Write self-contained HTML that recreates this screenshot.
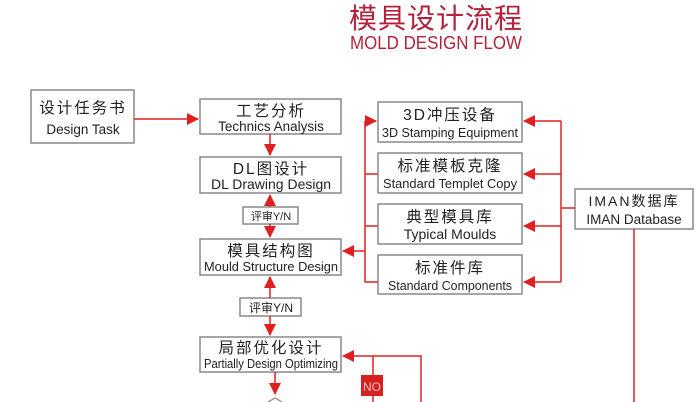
<!DOCTYPE html>
<html><head><meta charset="utf-8"><style>
html,body{margin:0;padding:0;background:#fff;}
body{width:700px;height:402px;overflow:hidden;position:relative;}
svg{position:absolute;left:0;top:0;}
text{font-family:"Liberation Sans","Noto Sans CJK SC",sans-serif;fill:#222;}
.cn{font-size:15.5px;letter-spacing:2px;}
.en{font-size:13px;}
</style></head><body>
<svg width="700" height="402" viewBox="0 0 700 402">
<defs>
<marker id="a" markerWidth="12" markerHeight="12" refX="11" refY="6" orient="auto" markerUnits="userSpaceOnUse"><path d="M0,0 L12,6 L0,12 z" fill="#e02020"/></marker>
</defs>
<text x="436" y="28" text-anchor="middle" style="font-size:28px;fill:#b3223a;letter-spacing:1px;font-family:'Noto Sans CJK SC',sans-serif">模具设计流程</text>
<text x="436" y="49" text-anchor="middle" textLength="172" lengthAdjust="spacingAndGlyphs" style="font-size:18px;fill:#b3223a">MOLD DESIGN FLOW</text>

<g fill="#fff" stroke="#888" stroke-width="1.5">
<rect x="31" y="90" width="103" height="53"/>
<rect x="200" y="99" width="141" height="35"/>
<rect x="200" y="157" width="141" height="36"/>
<rect x="243" y="207" width="55" height="17"/>
<rect x="200" y="239" width="141" height="36"/>
<rect x="240" y="298" width="61" height="18"/>
<rect x="200" y="337" width="141" height="35"/>
<rect x="378" y="102" width="144" height="40"/>
<rect x="378" y="153" width="144" height="40"/>
<rect x="378" y="204" width="144" height="40"/>
<rect x="378" y="255" width="144" height="39"/>
<rect x="575" y="189" width="118" height="40"/>
</g>
<path d="M268,402 L275,398 L282,402" fill="none" stroke="#888" stroke-width="1.2"/>

<g stroke="#e02020" stroke-width="1.5" fill="none">
<line x1="134" y1="119" x2="198" y2="119" marker-end="url(#a)"/>
<line x1="270" y1="134" x2="270" y2="155" marker-end="url(#a)"/>
<line x1="270" y1="207" x2="270" y2="195" marker-end="url(#a)"/>
<line x1="270" y1="224" x2="270" y2="237" marker-end="url(#a)"/>
<line x1="270" y1="298" x2="270" y2="277" marker-end="url(#a)"/>
<line x1="270" y1="316" x2="270" y2="335" marker-end="url(#a)"/>
<line x1="275" y1="372" x2="275" y2="394" marker-end="url(#a)"/>
<polyline points="378,282 365,282 365,121"/>
<line x1="365" y1="121" x2="376" y2="121" marker-end="url(#a)"/>
<line x1="365" y1="174" x2="378" y2="174"/>
<line x1="365" y1="226" x2="378" y2="226"/>
<line x1="365" y1="251" x2="343" y2="251" marker-end="url(#a)"/>
<polyline points="561,121 561,282"/>
<line x1="561" y1="121" x2="524" y2="121" marker-end="url(#a)"/>
<line x1="561" y1="174" x2="524" y2="174" marker-end="url(#a)"/>
<line x1="561" y1="226" x2="524" y2="226" marker-end="url(#a)"/>
<line x1="561" y1="282" x2="524" y2="282" marker-end="url(#a)"/>
<line x1="561" y1="208" x2="575" y2="208"/>
<line x1="634" y1="229" x2="634" y2="402"/>
<polyline points="421,402 421,356 343,356" marker-end="url(#a)"/>
<line x1="373" y1="356" x2="373" y2="402"/>
</g>
<rect x="361" y="375" width="22" height="21" fill="#d92020"/>
<text x="372" y="391" text-anchor="middle" style="font-size:12px;fill:#f4c0c0">NO</text>

<text class="cn" x="83" y="113" text-anchor="middle">设计任务书</text>
<text class="en" x="83" y="134" text-anchor="middle" style="font-size:13.5px">Design Task</text>
<text class="cn" x="271" y="116" text-anchor="middle">工艺分析</text>
<text class="en" x="271" y="131" text-anchor="middle" style="font-size:13.5px">Technics Analysis</text>
<text class="cn" x="271" y="174" text-anchor="middle">DL图设计</text>
<text class="en" x="271" y="189" text-anchor="middle" style="font-size:14px">DL Drawing Design</text>
<text x="271" y="220" text-anchor="middle" style="font-size:11px">评审Y/N</text>
<text class="cn" x="271" y="256" text-anchor="middle">模具结构图</text>
<text class="en" x="271" y="271" text-anchor="middle" textLength="134" lengthAdjust="spacingAndGlyphs">Mould Structure Design</text>
<text x="271" y="312" text-anchor="middle" style="font-size:12px">评审Y/N</text>
<text class="cn" x="271" y="353" text-anchor="middle">局部优化设计</text>
<text class="en" x="271" y="368" text-anchor="middle" textLength="134" lengthAdjust="spacingAndGlyphs">Partially Design Optimizing</text>
<text class="cn" x="450" y="120" text-anchor="middle">3D冲压设备</text>
<text class="en" x="450" y="137" text-anchor="middle" textLength="136" lengthAdjust="spacingAndGlyphs">3D Stamping Equipment</text>
<text class="cn" x="450" y="171" text-anchor="middle">标准模板克隆</text>
<text class="en" x="450" y="188" text-anchor="middle" textLength="134" lengthAdjust="spacingAndGlyphs">Standard Templet Copy</text>
<text class="cn" x="450" y="222" text-anchor="middle">典型模具库</text>
<text class="en" x="450" y="239" text-anchor="middle" style="font-size:14px">Typical Moulds</text>
<text class="cn" x="450" y="273" text-anchor="middle">标准件库</text>
<text class="en" x="450" y="290" text-anchor="middle" textLength="124" lengthAdjust="spacingAndGlyphs">Standard Components</text>
<text class="cn" x="634" y="206" text-anchor="middle" style="font-size:14px">IMAN数据库</text>
<text class="en" x="634" y="224" text-anchor="middle" style="font-size:13.5px">IMAN Database</text>
</svg>
</body></html>
